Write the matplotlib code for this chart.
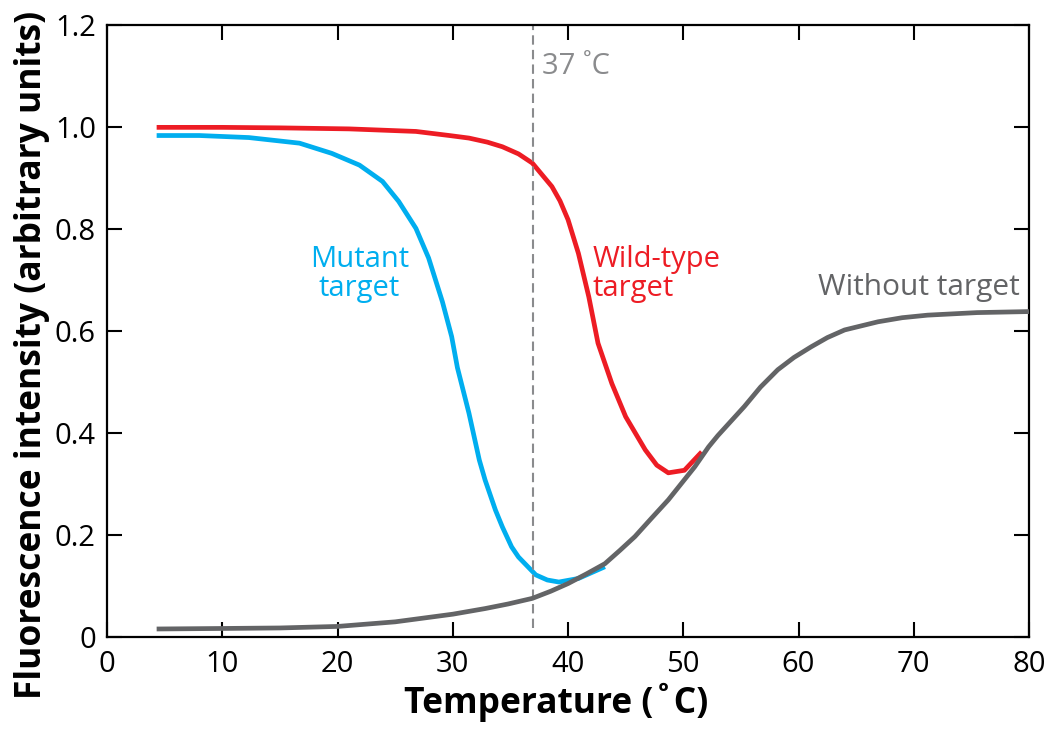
import matplotlib.pyplot as plt

# values
temp_wild = [4.3, 10, 15, 21.0, 26.8, 29.7, 31.4, 33.0, 34.3, 35.7, 36.9, 38.6, 39.3, 40.0,
             40.9, 41.8, 42.6, 43.8, 45.0, 46.7, 47.7, 48.7, 50.1, 51.6]
fluor_wild = [0.999, 0.999, 0.998, 0.996, 0.991, 0.983, 0.978, 0.970, 0.961, 0.947, 0.929,
              0.883, 0.855, 0.818, 0.752, 0.667, 0.576, 0.497, 0.432, 0.367, 0.337, 0.322,
              0.327, 0.363]

temp_mutant = [4.3, 8, 12.3, 16.7, 19.5, 21.9, 23.9, 25.3, 26.8, 27.9, 29.1, 29.9, 30.4,
               31.4, 32.3, 32.8, 33.7, 34.3, 35.1, 35.7, 37.2, 38.2, 39.2, 40.9, 42.9, 43.2]
fluor_mutant = [0.983, 0.983, 0.979, 0.968, 0.948, 0.925, 0.893, 0.854, 0.801, 0.743, 0.657,
                0.589, 0.528, 0.439, 0.347, 0.308, 0.249, 0.216, 0.177, 0.157, 0.122, 0.112,
                0.108, 0.115, 0.135, 0.138]

temp_none = [4.3, 10, 15, 20, 25, 30, 32.8, 34.8, 36.9, 38.5, 40.0, 41.6, 43.2, 44.5, 45.8,
             47.2, 48.7, 51.0, 52.2, 53.0, 55.3, 56.7, 58.2, 59.6, 61.1, 62.5, 64.0, 66.9,
             69.0, 71.2, 75.5, 80]
fluor_none = [0.016, 0.017, 0.018, 0.021, 0.030, 0.045, 0.056, 0.065, 0.076, 0.090, 0.105,
              0.124, 0.144, 0.170, 0.197, 0.232, 0.269, 0.334, 0.373, 0.395, 0.452, 0.490,
              0.524, 0.548, 0.569, 0.587, 0.602, 0.618, 0.626, 0.631, 0.636, 0.638]

x_ticks = [0, 10, 20, 30, 40, 50, 60, 70, 80]
y_ticks = [0, 0.2, 0.4, 0.6, 0.8, 1.0, 1.2]
y_ticklabels = ['0', '0.2', '0.4', '0.6', '0.8', '1.0', '1.2']

RED = '#ED1C24'
BLUE = '#00AEEF'
GRAY = '#636466'
LIGHT = '#8A8B8D'

plt.rcParams['font.family'] = ['Open Sans', 'DejaVu Sans']

fig = plt.figure(figsize=(10.5, 7.29), dpi=100)
ax = fig.add_axes([0.102, 0.126, 0.878, 0.840])

ax.plot(temp_none, fluor_none, color=GRAY, lw=3.4, solid_capstyle='butt',
        solid_joinstyle='round', zorder=3)
ax.plot(temp_mutant, fluor_mutant, color=BLUE, lw=3.4, solid_capstyle='butt',
        solid_joinstyle='round', zorder=2)
ax.plot(temp_wild, fluor_wild, color=RED, lw=3.4, solid_capstyle='butt',
        solid_joinstyle='round', zorder=2)

dash, = ax.plot([37, 37], [0.017, 1.2], color=LIGHT, lw=1.5)
dash.set_dashes([4.5, 2.5])

ax.text(37.7, 1.118, '37 ˚C', color=LIGHT, fontsize=21, ha='left', va='center')
ax.text(21.9, 0.712, 'Mutant\ntarget', color=BLUE, fontsize=21, ha='center',
        va='center', linespacing=1.0)
ax.text(42.1, 0.712, 'Wild-type\ntarget', color=RED, fontsize=21, ha='left',
        va='center', linespacing=1.0)
ax.text(79.2, 0.686, 'Without target', color=GRAY, fontsize=21.5, ha='right', va='center')

ax.set_xlim(0, 80)
ax.set_ylim(0, 1.2)
ax.set_xticks(x_ticks)
ax.set_yticks(y_ticks)
ax.set_yticklabels(y_ticklabels)
ax.tick_params(direction='in', length=11, width=1.5, top=True, right=True,
               labelsize=21, colors='black', pad=8)
ax.tick_params(axis='x', pad=9)
for sp in ax.spines.values():
    sp.set_linewidth(1.6)

ax.set_xlabel('Temperature (˚C)', fontsize=25.5, fontweight='bold')
ax.set_ylabel('Fluorescence intensity (arbitrary units)', fontsize=25.5,
              fontweight='bold')
ax.xaxis.set_label_coords(0.4875, -0.075)
ax.yaxis.set_label_coords(-0.062, 0.461)

fig.savefig('out.png', dpi=100)
